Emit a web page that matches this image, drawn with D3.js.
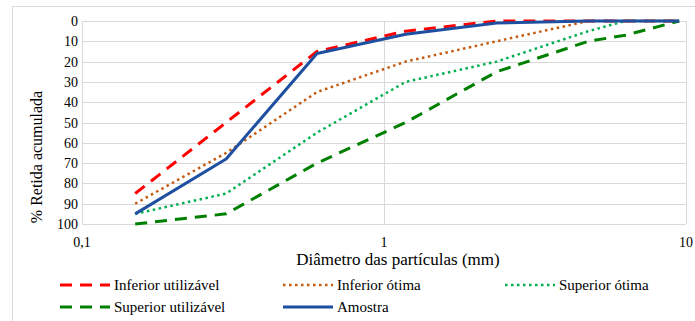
<!DOCTYPE html>
<html>
<head>
<meta charset="utf-8">
<script src="https://cdn.jsdelivr.net/npm/d3@7"></script>
<style>
  html, body { margin: 0; padding: 0; background: #fff; }
  svg { display: block; }
</style>
</head>
<body>
<svg id="chart" width="695" height="321"></svg>
<script>
/* ── data ─────────────────────────────────────────── */

const sieves = [0.15, 0.3, 0.6, 1.18, 2.36, 4.75, 6.3, 9.5];

const inferiorUtilizavel = [85, 50, 15, 5, 0, 0, 0, 0];
const inferiorOtima      = [90, 65, 35, 20, 10, 0, 0, 0];
const superiorOtima      = [95, 85, 55, 30, 20, 5, 0, 0];
const superiorUtilizavel = [100, 95, 70, 50, 25, 10, 7, 0];
const amostra            = [95, 68, 16, 6.5, 1, 0, 0, 0];

const yTicks = [0, 10, 20, 30, 40, 50, 60, 70, 80, 90, 100];
const xTicks = [0.1, 1, 10];
const xTickLabels = ["0,1", "1", "10"];

const series = [
  { name: "Inferior utilizável", values: inferiorUtilizavel, color: "#ff0000", dash: "12,8",   width: 3 },
  { name: "Inferior ótima",      values: inferiorOtima,      color: "#c55a11", dash: "2.5,3.5", width: 2.5 },
  { name: "Superior ótima",      values: superiorOtima,      color: "#00b050", dash: "2.5,3.5", width: 2.5 },
  { name: "Superior utilizável", values: superiorUtilizavel, color: "#008000", dash: "12,8",   width: 3 },
  { name: "Amostra",             values: amostra,            color: "#1f4fa0", dash: null,     width: 3 }
];

/* ── layout ───────────────────────────────────────── */

const FONT = "'Times New Roman', Times, 'Liberation Serif', 'Noto Serif', 'DejaVu Serif', serif";
const svg = d3.select("#chart").attr("font-family", FONT);
const plot = { l: 82, r: 686, t: 21, b: 224 };

const x = d3.scaleLog().domain([0.1, 10]).range([plot.l, plot.r]);
const y = d3.scaleLinear().domain([0, 100]).range([plot.t, plot.b]);

// outer chart frame
svg.append("rect")
  .attr("x", 12.5).attr("y", 6.5)
  .attr("width", 700).attr("height", 330)
  .attr("fill", "none").attr("stroke", "#d9d9d9");

/* ── grid ─────────────────────────────────────────── */

svg.append("g").selectAll("line.h")
  .data(yTicks)
  .join("line")
  .attr("x1", plot.l).attr("x2", plot.r)
  .attr("y1", d => Math.round(y(d)) + 0.5)
  .attr("y2", d => Math.round(y(d)) + 0.5)
  .attr("stroke", "#d9d9d9").attr("stroke-width", 1);

svg.append("g").selectAll("line.v")
  .data(xTicks)
  .join("line")
  .attr("x1", d => Math.round(x(d)) + 0.5)
  .attr("x2", d => Math.round(x(d)) + 0.5)
  .attr("y1", plot.t).attr("y2", plot.b)
  .attr("stroke", "#d9d9d9").attr("stroke-width", 1);

/* ── tick labels ──────────────────────────────────── */

svg.append("g").selectAll("text")
  .data(yTicks)
  .join("text")
  .attr("x", 78)
  .attr("y", d => y(d) + 5)
  .attr("text-anchor", "end")
  .attr("font-size", 14)
  .attr("fill", "#000")
  .text(d => d);

svg.append("g").selectAll("text")
  .data(xTicks)
  .join("text")
  .attr("x", d => x(d))
  .attr("y", 247)
  .attr("text-anchor", "middle")
  .attr("font-size", 14)
  .attr("fill", "#000")
  .text((d, i) => xTickLabels[i]);

/* ── axis titles ──────────────────────────────────── */

svg.append("text")
  .attr("x", 398).attr("y", 265)
  .attr("text-anchor", "middle")
  .attr("font-size", 17)
  .text("Diâmetro das partículas (mm)");

svg.append("text")
  .attr("transform", "translate(42,157) rotate(-90)")
  .attr("text-anchor", "middle")
  .attr("font-size", 16)
  .text("% Retida acumulada");

/* ── series ───────────────────────────────────────── */

const line = d3.line()
  .x((d, i) => x(sieves[i]))
  .y(d => y(d));

svg.append("g").selectAll("path")
  .data(series)
  .join("path")
  .attr("d", d => line(d.values))
  .attr("fill", "none")
  .attr("stroke", d => d.color)
  .attr("stroke-width", d => d.width)
  .attr("stroke-dasharray", d => d.dash)
  .attr("stroke-linejoin", "round");

/* ── legend ───────────────────────────────────────── */

const legendPos = [
  { x: 60,  y: 285 },
  { x: 283, y: 285 },
  { x: 505, y: 285 },
  { x: 60,  y: 307 },
  { x: 283, y: 307 }
];

const leg = svg.append("g").selectAll("g")
  .data(series)
  .join("g")
  .attr("transform", (d, i) => `translate(${legendPos[i].x},${legendPos[i].y})`);

leg.append("line")
  .attr("x1", 0).attr("x2", 50)
  .attr("y1", 0).attr("y2", 0)
  .attr("stroke", d => d.color)
  .attr("stroke-width", d => d.width)
  .attr("stroke-dasharray", d => d.dash);

leg.append("text")
  .attr("x", 54).attr("y", 5)
  .attr("font-size", 15)
  .text(d => d.name);
</script>
</body>
</html>
